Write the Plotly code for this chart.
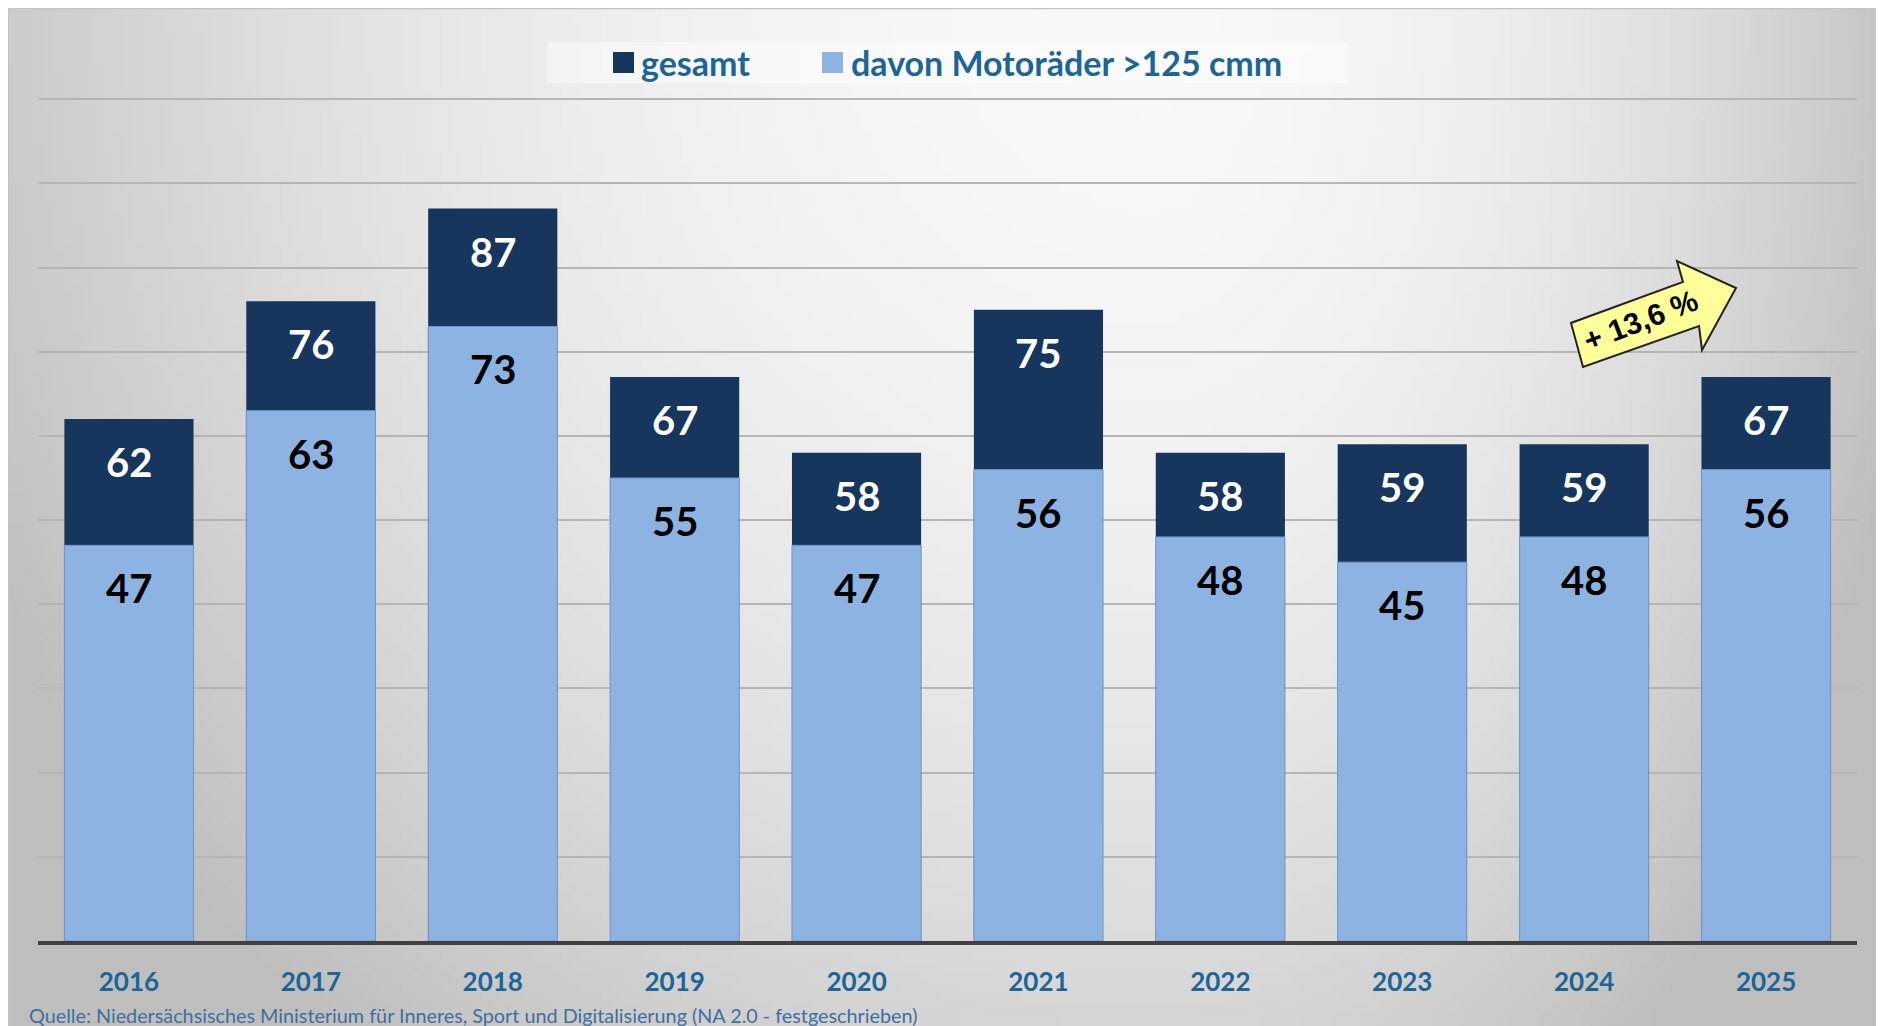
import base64
import struct
import zlib

import plotly.graph_objects as go

years = ["2016", "2017", "2018", "2019", "2020", "2021", "2022", "2023", "2024", "2025"]
gesamt = [62, 76, 87, 67, 58, 75, 58, 59, 59, 67]
motorraeder = [47, 63, 73, 55, 47, 56, 48, 45, 48, 56]
legend_labels = ["gesamt", "davon Motoräder >125 cmm"]
source_note = ("Quelle: Niedersächsisches Ministerium für Inneres, Sport und "
               "Digitalisierung (NA 2.0 - festgeschrieben)")
trend_label = "+ 13,6 %"

DARK = "#17365d"
LIGHT = "#8db3e2"
TEXT_BLUE = "#1b6598"
FONT = "Lato"

# figure sized so that it fits the 1884x1026 window next to the 8px body margin
OFF = 8
W, H = 1884 - OFF, 1026 - OFF
ML, MR, MT, MB = 30, 27, 7, 85


def px(x):
    # screen x -> paper
    return (x - OFF - ML) / (W - ML - MR)


def py(y):
    # screen y -> paper
    return (H - MB - (y - OFF)) / (H - MT - MB)


def gradient_png(w, h):
    # grey radial-ish backdrop, light near top centre-right, darker towards edges
    rows = b""
    for j in range(h):
        yy = OFF + (j + 0.5) * H / h
        row = bytearray([0])
        for i in range(w):
            xx = OFF + (i + 0.5) * W / w
            dx = (xx - 1150) / (1300 if xx < 1150 else 790)
            dy = yy / 1330
            t = min(1.0, dx * dx + dy * dy)
            row.append(int(round(248 - 58 * t)))
        rows += bytes(row)

    def chunk(tag, data):
        c = struct.pack(">I", len(data)) + tag + data
        return c + struct.pack(">I", zlib.crc32(tag + data) & 0xffffffff)

    png = b"\x89PNG\r\n\x1a\n"
    png += chunk(b"IHDR", struct.pack(">IIBBBBB", w, h, 8, 0, 0, 0, 0))
    png += chunk(b"IDAT", zlib.compress(rows, 9))
    png += chunk(b"IEND", b"")
    return "data:image/png;base64," + base64.b64encode(png).decode()


fig = go.Figure()
fig.add_trace(go.Bar(x=years, y=gesamt, name=legend_labels[0],
                     marker=dict(color=DARK, line=dict(width=0)),
                     width=0.71, showlegend=False, hoverinfo="x+y"))
fig.add_trace(go.Bar(x=years, y=motorraeder, name=legend_labels[1],
                     marker=dict(color=LIGHT, line=dict(color="#7396c9", width=1)),
                     width=0.71, showlegend=False, hoverinfo="x+y"))

annotations = []
# category axis: annotations are placed by category index
for i, (g, m) in enumerate(zip(gesamt, motorraeder)):
    annotations.append(dict(x=i, y=g, text=str(g), showarrow=False, yanchor="middle",
                            yshift=-43, font=dict(family=FONT, size=40, color="white", weight=700)))
    annotations.append(dict(x=i, y=m, text=str(m), showarrow=False, yanchor="middle",
                            yshift=-43, font=dict(family=FONT, size=40, color="black", weight=700)))

# legend, drawn by hand to get the big squares
shapes = [
    dict(type="rect", xref="paper", yref="paper", x0=px(8.5), x1=px(1884 + 20), y0=py(1026 + 20),
         y1=py(8.5), line=dict(color="#c3c3c3", width=1.5), fillcolor="rgba(0,0,0,0)",
         layer="below"),
    dict(type="rect", xref="paper", yref="paper", x0=px(547), x1=px(1348), y0=py(83), y1=py(42),
         line=dict(width=0), fillcolor="rgba(255,255,255,0.45)", layer="below"),
    dict(type="rect", xref="paper", yref="paper", x0=px(613), x1=px(634), y0=py(73), y1=py(52),
         line=dict(width=0), fillcolor=DARK),
    dict(type="rect", xref="paper", yref="paper", x0=px(822), x1=px(843), y0=py(73), y1=py(52),
         line=dict(width=0), fillcolor=LIGHT),
]
annotations.append(dict(xref="paper", yref="paper", x=px(639), y=py(62), xanchor="left",
                        yanchor="middle", text=legend_labels[0], showarrow=False,
                        font=dict(family=FONT, size=34, color=TEXT_BLUE, weight=700)))
annotations.append(dict(xref="paper", yref="paper", x=px(849), y=py(62), xanchor="left",
                        yanchor="middle", text=legend_labels[1], showarrow=False,
                        font=dict(family=FONT, size=34, color=TEXT_BLUE, weight=700)))

# yellow trend arrow
arrow_pts = [(1583, 367), (1571, 323), (1683, 282), (1677, 261),
             (1736, 288), (1702, 350), (1699, 326)]
path = "M " + " L ".join(f"{px(x):.5f},{py(y):.5f}" for x, y in arrow_pts) + " Z"
shapes.append(dict(type="path", xref="paper", yref="paper", path=path,
                   fillcolor="#ffff99", line=dict(color="#222222", width=2)))
annotations.append(dict(xref="paper", yref="paper", x=px(1640), y=py(320), text=trend_label,
                        showarrow=False, textangle=-21, xanchor="center", yanchor="middle",
                        font=dict(family="Liberation Sans", size=30, color="black", weight=700)))

annotations.append(dict(xref="paper", yref="paper", x=px(27), y=py(1015), xanchor="left",
                        yanchor="middle", text=source_note, showarrow=False,
                        font=dict(family=FONT, size=19.8, color="#3f6fa0")))

fig.update_layout(
    width=W, height=H,
    margin=dict(l=ML, r=MR, t=MT, b=MB),
    paper_bgcolor="white", plot_bgcolor="rgba(0,0,0,0)",
    barmode="overlay",
    showlegend=False,
    shapes=shapes,
    annotations=annotations,
    images=[dict(source=gradient_png(188, 102), xref="paper", yref="paper",
                 x=px(OFF), y=py(OFF), sizex=px(OFF + W) - px(OFF), sizey=py(OFF) - py(OFF + H),
                 xanchor="left", yanchor="top", sizing="stretch", layer="below")],
    xaxis=dict(type="category", range=[-0.5, len(years) - 0.5], showgrid=False,
               showline=True, linecolor="#404040", linewidth=4,
               tickfont=dict(family=FONT, size=26, color=TEXT_BLUE, weight=700),
               ticks="", ticklabelstandoff=15),
    yaxis=dict(range=[0, 110], dtick=10, showgrid=True, gridcolor="#b5b5b5", gridwidth=2,
               zeroline=False, showticklabels=False),
)

fig.write_html("out.html")
